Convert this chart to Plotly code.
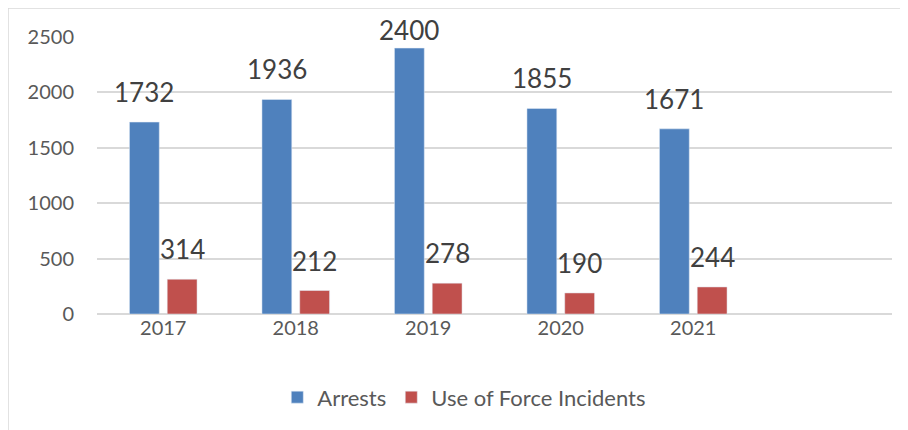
import plotly.graph_objects as go

years = ['2017', '2018', '2019', '2020', '2021']
arrests = [1732, 1936, 2400, 1855, 1671]
force = [314, 212, 278, 190, 244]

blue = '#4f81bd'
red = '#c0504d'
grey_txt = '#595959'
ymax = 2500
plot_h = 277


def label_shift(v):
    # labels near the top get pushed down so they stay inside the chart
    return min(12, (ymax - v) * plot_h / ymax - 11)


fig = go.Figure()
fig.add_trace(go.Bar(x=years, y=arrests, name='Arrests', marker_color=blue))
fig.add_trace(go.Bar(x=years, y=force, name='Use of Force Incidents', marker_color=red))

annotations = []
for i, (a, f) in enumerate(zip(arrests, force)):
    annotations.append(dict(x=i, y=a, xref='x', yref='y', text=str(a), showarrow=False,
                            xshift=-19, yshift=label_shift(a), yanchor='bottom',
                            font=dict(size=26, color='#404040')))
    annotations.append(dict(x=i, y=f, xref='x', yref='y', text=str(f), showarrow=False,
                            xshift=19, yshift=label_shift(f), yanchor='bottom',
                            font=dict(size=26, color='#404040')))

fig.update_layout(
    width=900, height=422,
    margin=dict(l=89, r=16, t=29, b=116),
    paper_bgcolor='white', plot_bgcolor='white',
    font=dict(family='Lato, Open Sans, sans-serif', color=grey_txt, size=18),
    barmode='group', bargap=0.43, bargroupgap=0.21,
    showlegend=True,
    legend=dict(orientation='h', x=0.462, xanchor='center', y=-0.225, yanchor='top',
                font=dict(size=22), itemwidth=30),
    annotations=annotations,
    shapes=[dict(type='rect', xref='paper', yref='paper',
                 x0=-89 / 795, x1=(920 - 89) / 795,
                 y0=(306 - 440) / plot_h, y1=306 / plot_h,
                 line=dict(color='#d9d9d9', width=1.5), layer='below')],
)
fig.update_xaxes(type='category', range=[-0.5, 5.5], showgrid=False, showline=False, ticks='',
                 tickfont=dict(size=20, color=grey_txt))
fig.update_yaxes(range=[0, ymax], dtick=500, showgrid=True, gridcolor='#d9d9d9', gridwidth=1.5,
                 zeroline=True, zerolinecolor='#d9d9d9', zerolinewidth=1.5,
                 ticks='', ticklabelstandoff=22, tickfont=dict(size=20, color=grey_txt))

fig.write_html('out.html')
